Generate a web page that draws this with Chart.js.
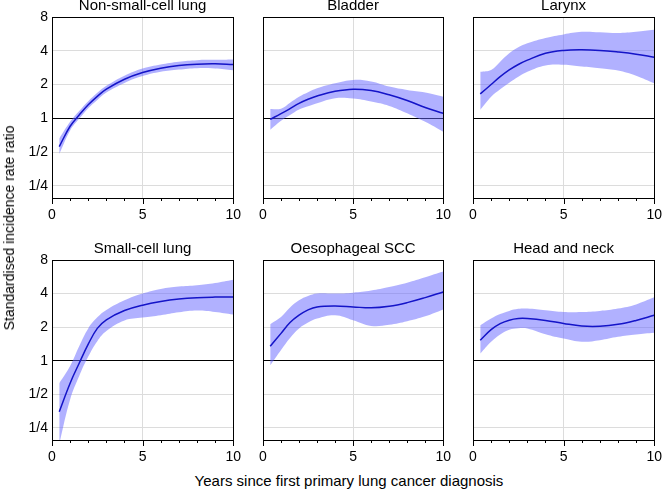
<!DOCTYPE html>
<html>
<head>
<meta charset="utf-8">
<script src="https://cdn.jsdelivr.net/npm/chart.js@4/dist/chart.umd.min.js"></script>
<style>
  body { margin: 0; background: #fff; }
  #page { position: relative; width: 669px; height: 489px; overflow: hidden; font-family: Arial, "Liberation Sans", sans-serif; }
  #page canvas { position: absolute; }
  .ytitle { position: absolute; left: 9px; top: 228px; transform: translate(-50%, -50%) rotate(-90deg); white-space: nowrap; font-size: 14px; color: #000; }
  .xtitle { position: absolute; left: 349px; top: 480px; transform: translate(-50%, -50%); white-space: nowrap; font-size: 15px; color: #000; }
</style>
</head>
<body>
<div id="page">
  <canvas id="c0"></canvas>
  <canvas id="c1"></canvas>
  <canvas id="c2"></canvas>
  <canvas id="c3"></canvas>
  <canvas id="c4"></canvas>
  <canvas id="c5"></canvas>
  <div class="ytitle">Standardised incidence rate ratio</div>
  <div class="xtitle">Years since first primary lung cancer diagnosis</div>
</div>
<script>
// data (rate ratios)
const years = [0.4, 1, 1.5, 2, 2.5, 3, 4, 5, 6, 7, 8, 9, 10];

const titles = ['Non-small-cell lung', 'Bladder', 'Larynx', 'Small-cell lung', 'Oesophageal SCC', 'Head and neck'];

const nsclcEst = [0.56, 0.85, 1.07, 1.32, 1.57, 1.82, 2.23, 2.56, 2.8, 2.96, 3.04, 3.06, 3.02];
const nsclcLo  = [0.48, 0.78, 0.99, 1.23, 1.46, 1.7, 2.07, 2.38, 2.6, 2.72, 2.8, 2.78, 2.68];
const nsclcHi  = [0.66, 0.93, 1.16, 1.42, 1.69, 1.95, 2.4, 2.78, 3.02, 3.2, 3.3, 3.32, 3.35];

const bladderEst = [0.98, 1.1, 1.22, 1.36, 1.48, 1.58, 1.74, 1.82, 1.77, 1.62, 1.44, 1.25, 1.11];
const bladderLo  = [0.79, 0.95, 1.07, 1.2, 1.28, 1.36, 1.51, 1.5, 1.41, 1.29, 1.11, 0.93, 0.76];
const bladderHi  = [1.21, 1.22, 1.38, 1.56, 1.71, 1.85, 2.05, 2.2, 2.13, 1.92, 1.79, 1.7, 1.56];

const larynxEst = [1.65, 2.0, 2.35, 2.7, 3.02, 3.3, 3.8, 4.03, 4.08, 4.03, 3.9, 3.73, 3.5];
const larynxLo  = [1.19, 1.56, 1.82, 2.08, 2.35, 2.6, 2.96, 3.0, 2.9, 2.8, 2.67, 2.4, 2.05];
const larynxHi  = [2.6, 2.7, 3.2, 3.8, 4.3, 4.67, 5.2, 5.6, 5.9, 5.85, 5.75, 5.9, 6.15];

const sclcEst = [0.35, 0.63, 0.95, 1.41, 1.95, 2.33, 2.82, 3.15, 3.4, 3.58, 3.68, 3.72, 3.73];
const sclcLo  = [0.18, 0.45, 0.73, 1.09, 1.5, 1.85, 2.3, 2.44, 2.56, 2.72, 2.82, 2.74, 2.6];
const sclcHi  = [0.63, 0.9, 1.35, 1.95, 2.45, 2.85, 3.48, 4.0, 4.4, 4.62, 4.75, 4.98, 5.33];

const oesoEst = [1.35, 1.76, 2.2, 2.56, 2.86, 3.04, 3.1, 3.04, 2.98, 3.08, 3.32, 3.68, 4.14];
const oesoLo  = [0.91, 1.25, 1.6, 1.95, 2.2, 2.39, 2.56, 2.31, 2.05, 2.1, 2.26, 2.5, 2.88];
const oesoHi  = [2.13, 2.47, 3.0, 3.48, 3.8, 4.0, 4.0, 4.08, 4.26, 4.58, 5.0, 5.6, 6.3];

const hnEst = [1.53, 1.9, 2.15, 2.31, 2.39, 2.39, 2.3, 2.16, 2.05, 2.04, 2.12, 2.3, 2.56];
const hnLo  = [1.16, 1.48, 1.72, 1.9, 1.96, 1.95, 1.73, 1.58, 1.48, 1.53, 1.64, 1.72, 1.78];
const hnHi  = [2.08, 2.39, 2.62, 2.8, 2.92, 2.94, 2.84, 2.74, 2.74, 2.8, 2.94, 3.2, 3.7];

const yTicks = [0.25, 0.5, 1, 2, 4, 8];
const yTickLabels = ['1/4', '1/2', '1', '2', '4', '8'];
const xTicks = [0, 5, 10];

// layout: plot areas in page pixels
const colLeft = [52, 263, 473];
const colRight = [240, 450, 661];
const rowTop = [17, 260];
const rowBottom = [198, 440];
const yAxisW = 40, titleH = 17, xAxisH = 28, padRight = 10;

const lineColor = 'rgb(20,20,200)';
const bandColor = 'rgba(100,100,255,0.5)';
const font = { family: 'Arial, "Liberation Sans", sans-serif', size: 14 };

const panels = [
  [nsclcEst, nsclcLo, nsclcHi],
  [bladderEst, bladderLo, bladderHi],
  [larynxEst, larynxLo, larynxHi],
  [sclcEst, sclcLo, sclcHi],
  [oesoEst, oesoLo, oesoHi],
  [hnEst, hnLo, hnHi]
];

// box around plot + minor/major ticks on x axis
const framePlugin = {
  id: 'frame',
  afterDraw(chart) {
    const { ctx, chartArea: a } = chart;
    const x = chart.scales.x;
    ctx.save();
    ctx.strokeStyle = '#000';
    ctx.lineWidth = 1;
    ctx.strokeRect(Math.round(a.left) + 0.5, Math.round(a.top) + 0.5,
      Math.round(a.right - a.left), Math.round(a.bottom - a.top));
    ctx.beginPath();
    for (let v = 0; v <= 10; v++) {
      const px = Math.round(x.getPixelForValue(v)) + 0.5;
      const len = v % 5 === 0 ? 6 : 3;
      ctx.moveTo(px, Math.round(a.bottom));
      ctx.lineTo(px, Math.round(a.bottom) + len);
    }
    ctx.stroke();
    ctx.restore();
  }
};

function pts(vals) {
  return years.map((x, i) => ({ x: x, y: vals[i] }));
}

panels.forEach((p, i) => {
  const col = i % 3, row = Math.floor(i / 3);
  const canvas = document.getElementById('c' + i);
  const w = yAxisW + (colRight[col] - colLeft[col]) + padRight;
  const h = titleH + (rowBottom[row] - rowTop[row]) + xAxisH;
  canvas.width = w;
  canvas.height = h;
  canvas.style.left = (colLeft[col] - yAxisW) + 'px';
  canvas.style.top = (rowTop[row] - titleH) + 'px';

  new Chart(canvas, {
    type: 'line',
    data: {
      datasets: [
        { data: pts(p[0]), borderColor: lineColor, borderWidth: 1.5, pointRadius: 0,
          tension: 0.4, fill: false },
        { data: pts(p[2]), borderColor: 'transparent', borderWidth: 0, pointRadius: 0,
          tension: 0.4, backgroundColor: bandColor, fill: '+1' },
        { data: pts(p[1]), borderColor: 'transparent', borderWidth: 0, pointRadius: 0,
          tension: 0.4, fill: false }
      ]
    },
    options: {
      responsive: false,
      animation: false,
      devicePixelRatio: 1,
      layout: { padding: { top: 0, left: 0, right: padRight, bottom: 0 } },
      plugins: {
        legend: { display: false },
        tooltip: { enabled: false },
        title: {
          display: true,
          fullSize: false,
          text: titles[i],
          color: '#000',
          font: { family: font.family, size: 15, weight: 'normal', lineHeight: 0.8 },
          padding: { top: 0, bottom: 5 }
        }
      },
      scales: {
        x: {
          type: 'linear', min: 0, max: 10,
          afterBuildTicks: s => { s.ticks = xTicks.map(v => ({ value: v })); },
          afterFit: s => { s.height = xAxisH; },
          ticks: { padding: 9, font: font, color: '#000', maxRotation: 0 },
          grid: { color: '#dcdcdc', drawTicks: false },
          border: { display: false }
        },
        y: {
          type: 'logarithmic', min: 0.195, max: 8, bounds: 'data',
          afterBuildTicks: s => { s.ticks = yTicks.map(v => ({ value: v })); },
          afterFit: s => { s.width = yAxisW; },
          ticks: {
            display: col === 0, padding: 4, font: font, color: '#000',
            callback: v => yTickLabels[yTicks.indexOf(v)]
          },
          grid: {
            color: c => (c.tick && c.tick.value === 1) ? '#000' : '#dcdcdc',
            drawTicks: false
          },
          border: { display: false }
        }
      }
    },
    plugins: [framePlugin]
  });
});
</script>
</body>
</html>
